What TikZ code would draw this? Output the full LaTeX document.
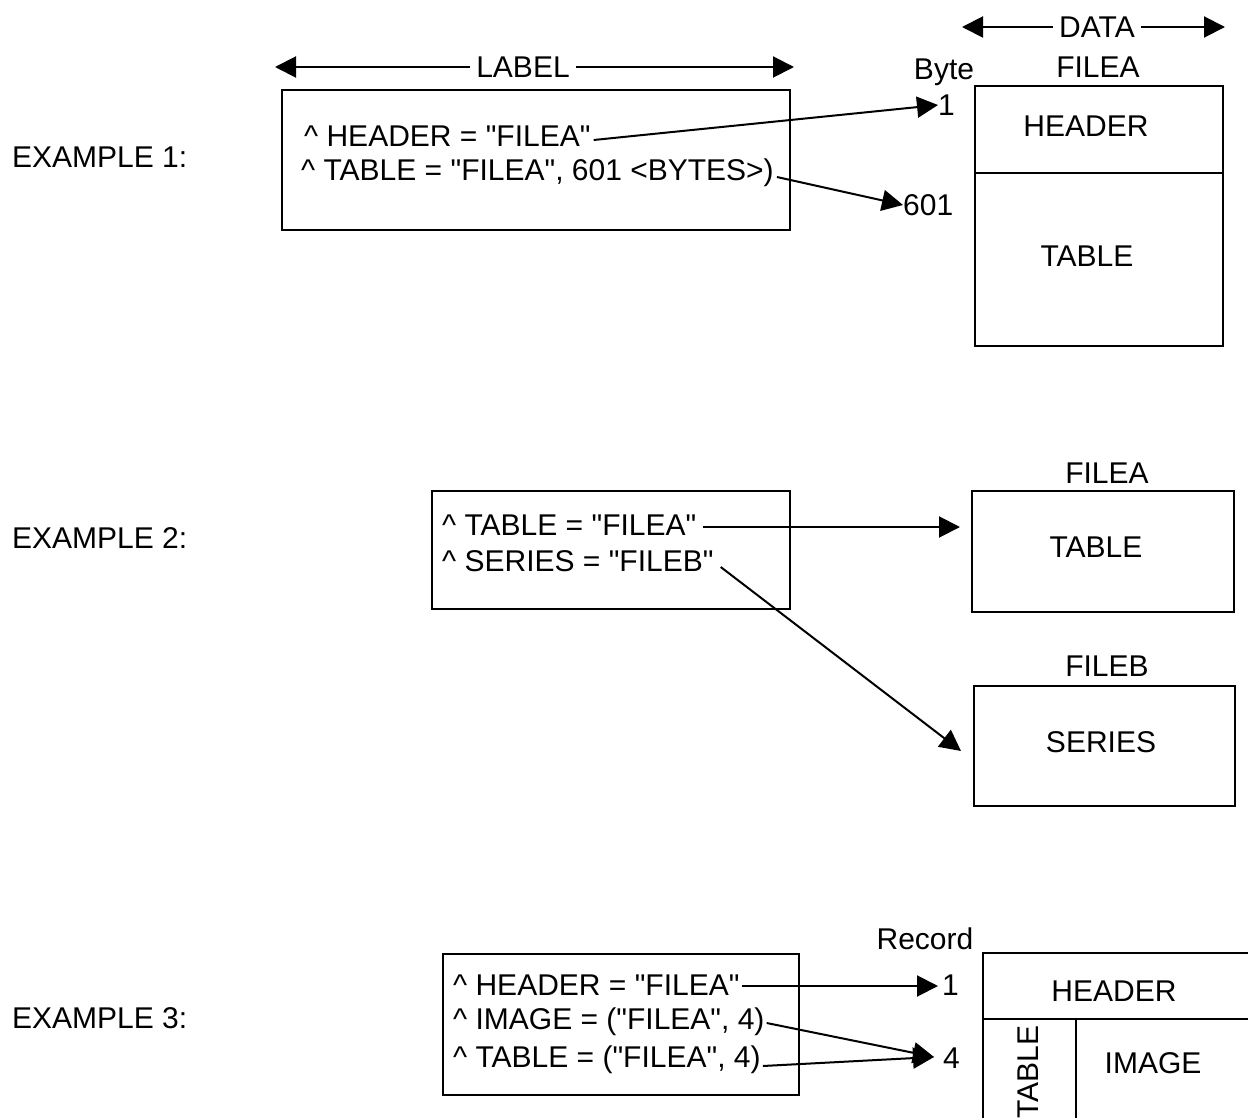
\documentclass[tikz,border=0pt]{standalone}
\usepackage{fontspec}
\setmainfont{Liberation Sans}
\usetikzlibrary{arrows.meta}
\newcommand{\qt}{\textquotedbl}
\tikzset{
  txt/.style={font=\fontsize{30}{36}\selectfont, inner sep=1pt},
  hdtxt/.style={txt, inner sep=6pt},
  box/.style={draw, line width=2.2pt, anchor=north west, inner sep=0pt, outer sep=0pt},
  arr/.style={-{Triangle[length=21pt,width=21pt]}, line width=2pt},
}
\begin{document}
\begin{tikzpicture}[x=1pt,y=-1pt]
\useasboundingbox (0,0) rectangle (1248,1118);

% ---------------- Example 1 ----------------
\node[txt, anchor=west] (ex1) at (11,157) {EXAMPLE 1:};
\node[hdtxt] (labtxt) at (523,67) {LABEL};
\coordinate (labL) at (275,67);
\coordinate (labR) at (794,67);
\draw[arr] (labtxt.west) -- (labL);
\draw[arr] (labtxt.east) -- (labR);

\node[box, minimum width=508pt, minimum height=140pt] (lbl1) at (282,90) {};
\node[txt, anchor=west] (h1) at (303,136) {\textasciicircum\ HEADER = \qt FILEA\qt};
\node[txt, anchor=west] (t1) at (300,173) {\textasciicircum\ TABLE = \qt FILEA\qt, 601 <BYTES>)};

\node[txt] (byte) at (944,72) {Byte};
\node[txt, anchor=west, inner sep=0pt] (one1) at (938,105) {1};
\node[txt, anchor=west, inner sep=0pt] (b601) at (903,205) {601};
\draw[arr] ([xshift=2pt,yshift=-4pt]h1.east) -- (one1.west);
\draw[arr] ([xshift=2pt,yshift=-4pt]t1.east) -- (b601.west);

\node[hdtxt] (datatxt) at (1097,27) {DATA};
\coordinate (datL) at (962,27);
\coordinate (datR) at (1225,27);
\draw[arr] (datatxt.west) -- (datL);
\draw[arr] (datatxt.east) -- (datR);
\node[txt] (filea1) at (1098,67) {FILEA};

\node[box, minimum width=248pt, minimum height=87pt] (hdr1) at (975,86) {};
\node[box, minimum width=248pt, minimum height=173pt] (tbl1) at (hdr1.south west) {};
\node[txt] (hdr1t) at (1086,126) {HEADER};
\node[txt] (tbl1t) at (1087,256) {TABLE};

% ---------------- Example 2 ----------------
\node[txt, anchor=west] (ex2) at (11,538) {EXAMPLE 2:};
\node[box, minimum width=358pt, minimum height=118pt] (lbl2) at (432,491) {};
\node[txt, anchor=west] (ta2) at (441,525) {\textasciicircum\ TABLE = \qt FILEA\qt};
\node[txt, anchor=west] (se2) at (441,561) {\textasciicircum\ SERIES = \qt FILEB\qt};

\node[txt] (filea2) at (1107,473) {FILEA};
\node[box, minimum width=262pt, minimum height=121pt] (tbl2) at (972,491) {};
\node[txt] (tbl2t) at (1096,547) {TABLE};
\node[txt] (fileb2) at (1107,666) {FILEB};
\node[box, minimum width=261pt, minimum height=120pt] (ser2) at (974,686) {};
\node[txt] (ser2t) at (1101,742) {SERIES};

\coordinate (tip2a) at (960,527);
\coordinate (tip2b) at (961,751);
\draw[arr] ([xshift=6pt,yshift=-2pt]ta2.east) -- (tip2a);
\draw[arr] ([xshift=6pt,yshift=-6pt]se2.east) -- (tip2b);

% ---------------- Example 3 ----------------
\node[txt, anchor=west] (ex3) at (11,1018) {EXAMPLE 3:};
\node[box, minimum width=356pt, minimum height=141pt] (lbl3) at (443,954) {};
\node[txt, anchor=west] (h3) at (452,985) {\textasciicircum\ HEADER = \qt FILEA\qt};
\node[txt, anchor=west] (i3) at (452,1022) {\textasciicircum\ IMAGE = (\qt FILEA\qt, 4)};
\node[txt, anchor=west] (t3) at (452,1060) {\textasciicircum\ TABLE = (\qt FILEA\qt, 4)};

\node[txt] (rec) at (925,939) {Record};
\node[txt, anchor=west, inner sep=0pt] (one3) at (942,985) {1};
\node[txt, anchor=west, inner sep=0pt] (four3) at (943,1058) {4};
\coordinate (tip3a) at (938,986);
\coordinate (tip3b) at (934,1057);
\draw[arr] ([xshift=1pt,yshift=-1pt]h3.east) -- (tip3a);
\draw[arr] ([xshift=1pt,yshift=-1pt]i3.east) -- (tip3b);
\draw[arr] ([xshift=1pt,yshift=-6pt]t3.east) -- (tip3b);

\node[box, minimum width=290pt, minimum height=66pt] (hdr3) at (983,953) {};
\node[box, minimum width=93pt, minimum height=130pt] (tab3) at (hdr3.south west) {};
\node[box, minimum width=197pt, minimum height=130pt] (img3) at (tab3.north east) {};
\node[txt] (hdr3t) at (1114,991) {HEADER};
\node[txt] (img3t) at (1153,1063) {IMAGE};
\node[txt, rotate=90] (tab3t) at (1028,1072) {TABLE};
\end{tikzpicture}
\end{document}
